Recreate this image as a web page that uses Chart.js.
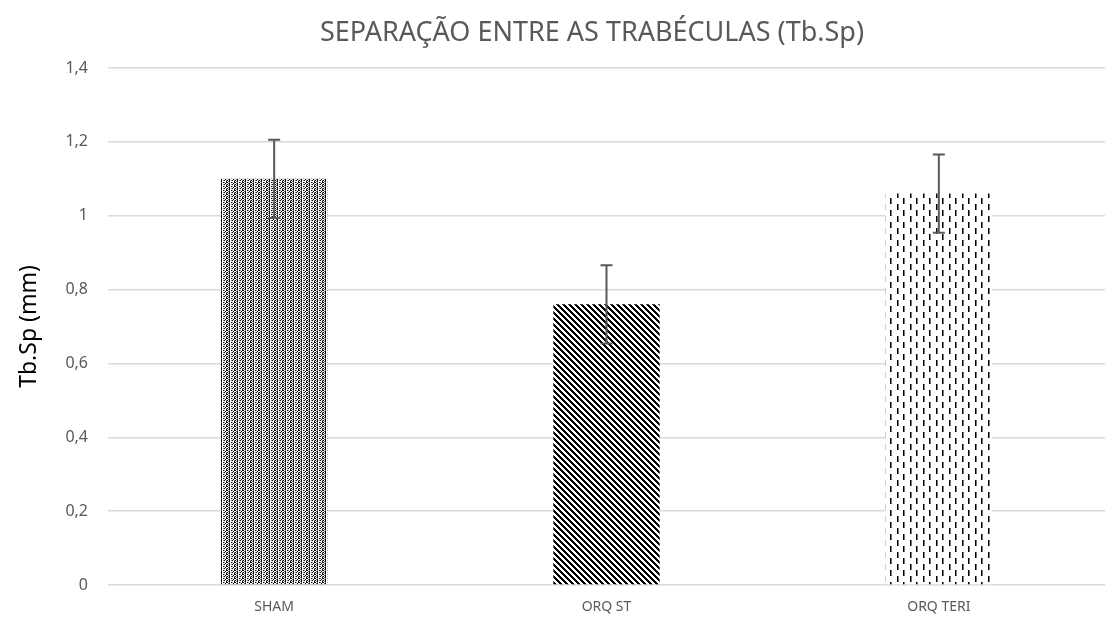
<!DOCTYPE html>
<html>
<head>
<meta charset="utf-8">
<script src="https://cdn.jsdelivr.net/npm/chart.js@4"></script>
<style>
  html, body { margin: 0; padding: 0; background: #fff; }
  #wrap { width: 1105px; height: 626px; }
</style>
</head>
<body>
<div id="wrap"><canvas id="tbspChart"></canvas></div>
<script>
// Chart data
const categories = ['SHAM', 'ORQ ST', 'ORQ TERI'];
const tbspValues = [1.10, 0.76, 1.06];
const tbspErrors = [0.106, 0.106, 0.106];
const yTicks = [0, 0.2, 0.4, 0.6, 0.8, 1, 1.2, 1.4];

const chartTitle = 'SEPARAÇÃO ENTRE AS TRABÉCULAS (Tb.Sp)';
const yAxisTitle = 'Tb.Sp (mm)';

// Build a fill pattern from a small bitmap (1 = dark pixel, 2 = mid grey)
function makePattern(bits) {
    const h = bits.length, w = bits[0].length;
    const c = document.createElement('canvas');
    c.width = w;
    c.height = h;
    const g = c.getContext('2d');
    g.fillStyle = '#fff';
    g.fillRect(0, 0, w, h);
    for (let y = 0; y < h; y++) {
        for (let x = 0; x < w; x++) {
            const b = bits[y][x];
            if (b === '1') g.fillStyle = '#000';
            else if (b === '2') g.fillStyle = '#777';
            else continue;
            g.fillRect(x, y, 1, 1);
        }
    }
    return g.createPattern(c, 'repeat');
}

// dotted vertical columns (SHAM)
const dottedPattern = makePattern([
    '10210102',
    '00102100',
    '20110201',
    '01002100'
]);

// diagonal stripes (ORQ ST)
const stripePattern = makePattern([
    '111000',
    '011100',
    '001110',
    '000111',
    '100011',
    '110001'
]);

// dashed vertical lines (ORQ TERI)
const dashPattern = makePattern([
    '1200000000000',
    '1200000000000',
    '1200000000000',
    '1200000000000',
    '1200000000000',
    '1200000000000',
    '0000001200000',
    '0000001200000',
    '0000001200000',
    '0000001200000',
    '0000001200000',
    '0000001200000'
]);

// Error bars drawn on top of the bars
const errorBarPlugin = {
    id: 'errorBars',
    afterDatasetsDraw(chart) {
        const ctx = chart.ctx;
        const yScale = chart.scales.y;
        const meta = chart.getDatasetMeta(0);
        ctx.save();
        ctx.strokeStyle = '#595959';
        ctx.lineWidth = 2;
        meta.data.forEach((bar, i) => {
            const top = yScale.getPixelForValue(tbspValues[i] + tbspErrors[i]);
            const bottom = yScale.getPixelForValue(tbspValues[i] - tbspErrors[i]);
            const x = bar.x;
            ctx.beginPath();
            ctx.moveTo(x, top);
            ctx.lineTo(x, bottom);
            ctx.moveTo(x - 6, top);
            ctx.lineTo(x + 6, top);
            ctx.moveTo(x - 6, bottom);
            ctx.lineTo(x + 6, bottom);
            ctx.stroke();
        });
        ctx.restore();
    }
};

// Title centred over the plot area
const titlePlugin = {
    id: 'plotTitle',
    afterDraw(chart) {
        const ctx = chart.ctx;
        ctx.save();
        ctx.fillStyle = '#595959';
        ctx.font = '27px "Noto Sans"';
        ctx.textAlign = 'center';
        ctx.textBaseline = 'middle';
        ctx.fillText(chartTitle, 592, 33);
        ctx.restore();
    }
};

const ctx = document.getElementById('tbspChart');
new Chart(ctx, {
    type: 'bar',
    data: {
        labels: categories,
        datasets: [
            {
                label: yAxisTitle,
                data: tbspValues,
                backgroundColor: [dottedPattern, stripePattern, dashPattern],
                borderWidth: 0,
                barPercentage: 0.64,
                categoryPercentage: 0.5
            }
        ]
    },
    options: {
        responsive: true,
        maintainAspectRatio: false,
        animation: false,
        layout: {
            padding: { top: 68, right: 0, bottom: 0, left: 0 }
        },
        plugins: {
            legend: { display: false },
            title: { display: false },
            tooltip: { enabled: false }
        },
        scales: {
            x: {
                grid: { display: false },
                border: { display: false },
                ticks: {
                    color: '#595959',
                    font: { family: '"Liberation Sans Narrow", "Noto Sans"', size: 14 },
                    padding: 6
                },
                afterFit: function(scale) { scale.height = 41; }
            },
            y: {
                min: 0,
                max: 1.4,
                afterBuildTicks: function(scale) {
                    scale.ticks = yTicks.map(v => ({ value: v }));
                },
                grid: {
                    color: '#d9d9d9',
                    lineWidth: 1.5,
                    drawTicks: false
                },
                border: { display: false },
                ticks: {
                    color: '#595959',
                    font: { family: 'Noto Sans', size: 16 },
                    padding: 20,
                    callback: function(value) {
                        return String(Math.round(value * 10) / 10).replace('.', ',');
                    }
                },
                title: {
                    display: true,
                    text: yAxisTitle,
                    color: '#000',
                    font: { family: 'Noto Sans', size: 23 },
                    padding: { top: 16, bottom: 0 }
                },
                afterFit: function(scale) { scale.width = 108; }
            }
        }
    },
    plugins: [errorBarPlugin, titlePlugin]
});
</script>
</body>
</html>
